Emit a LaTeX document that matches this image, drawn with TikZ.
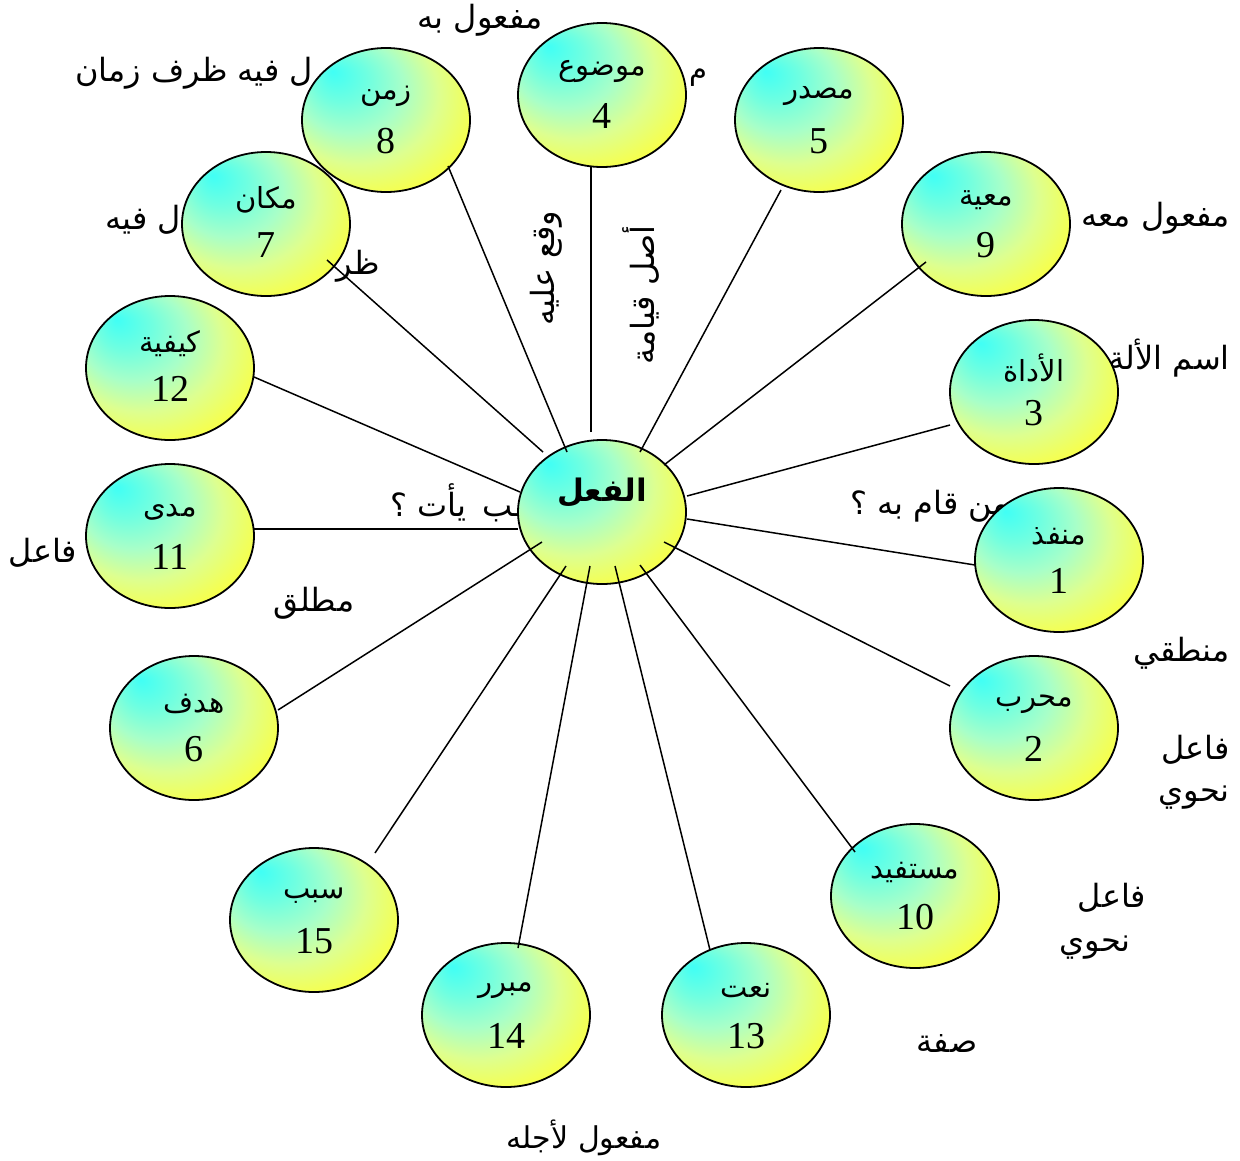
\documentclass[tikz,border=0pt]{standalone}
\usepackage{fontspec}
\setmainfont{Liberation Serif}
\newfontfamily\ar[Script=Arabic]{DejaVu Sans}
\usetikzlibrary{shapes.geometric}
\TeXXeTstate=1
\definecolor{cA}{RGB}{64,255,245}
\definecolor{cB}{RGB}{112,255,224}
\definecolor{cC}{RGB}{168,255,200}
\definecolor{cD}{RGB}{221,255,144}
\definecolor{cE}{RGB}{245,255,80}
\definecolor{cF}{RGB}{255,255,32}
\pgfdeclareradialshading{ballshade}{\pgfpoint{-16bp}{17bp}}{color(0bp)=(cA); color(8bp)=(cB); color(16bp)=(cC); color(24bp)=(cD); color(32bp)=(cE); color(40bp)=(cF); color(50bp)=(cF)}
\newcommand\ballnode[5]{%
  \node[ballst] (#1) at (#2,#3) {};
  \node[inlab] (#1a) at ([shift={(0,-24)}]#1.center) {\beginR #4\endR};
  \node[numlab] (#1b) at ([shift={(0,21)}]#1.center) {#5};}
\begin{document}
\begin{tikzpicture}[x=1pt,y=-1pt,
  lab/.style={font=\ar\fontsize{32}{36}\selectfont, inner sep=0pt},
  ballst/.style={ellipse, draw=black, line width=1.8pt, minimum width=168pt, minimum height=144pt, inner sep=0pt, shade, shading=ballshade},
  inlab/.style={font=\ar\fontsize{29}{32}\selectfont, inner sep=0pt},
  numlab/.style={font=\fontsize{38}{40}\selectfont, inner sep=0pt},
  conn/.style={line width=1.5pt, draw=black}]
\useasboundingbox (0,0) rectangle (1240,1160);
\fill[white] (0,0) rectangle (1240,1160);
% texts lying behind the circles
\node[lab] (tMafBih) at (480,20) {\beginR مفعول به\endR};
\node[lab, anchor=west] (tZaman) at (75,73) {\beginR ل فيه ظرف زمان\endR};
\node[inlab] (tMim) at (698,78) {\beginR م\endR};
\node[lab, anchor=west] (tFih) at (105,220) {\beginR ل فيه\endR};
\node[lab, anchor=east] (tDhar) at (380,266) {\beginR ظر\endR};
\node[lab, rotate=90] (tWaqa) at (546,268) {\beginR وقع عليه\endR};
\node[lab, rotate=90] (tAsl) at (641,295) {\beginR أصل قيامة\endR};
\node[lab, anchor=east] (tMaahu) at (1230,218) {\beginR مفعول معه\endR};
\node[lab, anchor=east] (tAla) at (1230,358) {\beginR اسم الألة\endR};
\node[lab, anchor=west] (tQama) at (850,506) {\beginR من قام به ؟\endR};
\node[lab, anchor=west] (tYati) at (390,503) {\beginR ـب\hspace{16pt}يأت ؟\endR};
\node[lab] (tFail1) at (43,553) {\beginR فاعل\endR};
\node[lab] (tMutlaq) at (314,603) {\beginR مطلق\endR};
\node[lab, anchor=east] (tMantiqi) at (1230,653) {\beginR منطقي\endR};
\node[lab, anchor=east] (tFail2) at (1230,750) {\beginR فاعل\endR};
\node[lab, anchor=east] (tNahwi2) at (1230,798) {\beginR نحوي\endR};
\node[lab] (tFail3) at (1112,898) {\beginR فاعل\endR};
\node[lab] (tNahwi3) at (1095,948) {\beginR نحوي\endR};
\node[lab] (tSifa) at (947,1043) {\beginR صفة\endR};
\node[lab, font=\ar\fontsize{30}{34}\selectfont] (tAjlih) at (584,1138) {\beginR مفعول لأجله\endR};
% circles
\ballnode{n8}{386}{120}{زمن}{8}
\ballnode{n7}{266}{224}{مكان}{7}
\ballnode{n4}{602}{95}{موضوع}{4}
\ballnode{n5}{819}{120}{مصدر}{5}
\ballnode{n9}{986}{224}{معية}{9}
\ballnode{n3}{1034}{392}{الأداة}{3}
\ballnode{n1}{1059}{560}{منفذ}{1}
\ballnode{n2}{1034}{728}{محرب}{2}
\ballnode{n10}{915}{896}{مستفيد}{10}
\ballnode{n13}{746}{1015}{نعت}{13}
\ballnode{n14}{506}{1015}{مبرر}{14}
\ballnode{n15}{314}{920}{سبب}{15}
\ballnode{n6}{194}{728}{هدف}{6}
\ballnode{n11}{170}{536}{مدى}{11}
\ballnode{n12}{170}{368}{كيفية}{12}
\node[ballst] (fi) at (602,512) {};
\node[font=\ar\bfseries\fontsize{31}{34}\selectfont, inner sep=0pt] (fia) at ([shift={(0,-19)}]fi.center) {\beginR الفعل\endR};
% connectors
\draw[conn] ([shift={(-35,-60)}]fi.center) -- ([shift={(62,46)}]n8.center);
\draw[conn] ([shift={(-11,-80)}]fi.center) -- ([shift={(-11,71)}]n4.center);
\draw[conn] ([shift={(38,-60)}]fi.center) -- ([shift={(-38,70)}]n5.center);
\draw[conn] ([shift={(62,-47)}]fi.center) -- ([shift={(-60,38)}]n9.center);
\draw[conn] ([shift={(85,-16)}]fi.center) -- ([shift={(-84,33)}]n3.center);
\draw[conn] ([shift={(85,7)}]fi.center) -- ([shift={(-84,5)}]n1.center);
\draw[conn] ([shift={(62,30)}]fi.center) -- ([shift={(-84,-42)}]n2.center);
\draw[conn] ([shift={(38,53)}]fi.center) -- ([shift={(-60,-44)}]n10.center);
\draw[conn] ([shift={(13,54)}]fi.center) -- ([shift={(-36,-65)}]n13.center);
\draw[conn] ([shift={(-12,54)}]fi.center) -- ([shift={(12,-67)}]n14.center);
\draw[conn] ([shift={(-36,54)}]fi.center) -- ([shift={(61,-67)}]n15.center);
\draw[conn] ([shift={(-60,30)}]fi.center) -- ([shift={(84,-18)}]n6.center);
\draw[conn] ([shift={(-84,17)}]fi.center) -- ([shift={(84,-7)}]n11.center);
\draw[conn] ([shift={(-82,-20)}]fi.center) -- ([shift={(84,9)}]n12.center);
\draw[conn] ([shift={(-59,-60)}]fi.center) -- ([shift={(61,36)}]n7.center);
\end{tikzpicture}
\end{document}
